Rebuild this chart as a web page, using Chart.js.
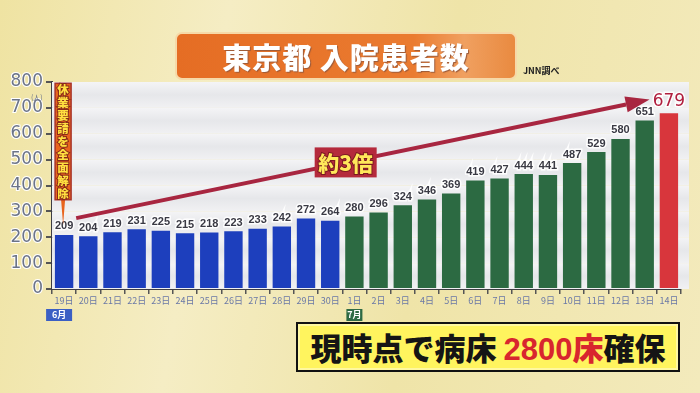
<!DOCTYPE html>
<html lang="ja">
<head>
<meta charset="utf-8">
<script src="https://cdn.jsdelivr.net/npm/chart.js@4/dist/chart.umd.min.js"></script>
<style>
  html, body { margin: 0; padding: 0; }
  body {
    width: 700px; height: 393px; overflow: hidden; position: relative;
    background: linear-gradient(100deg, #efe3a2 0%, #f5edc4 30%, #efe4a8 60%, #f3eabc 100%);
    font-family: "Noto Sans CJK JP", "Noto Sans", sans-serif;
  }
  #wrap { position: absolute; left: 0; top: 0; width: 700px; height: 393px; }
  .title {
    position: absolute; left: 175px; top: 32px; width: 338px; height: 44px;
    border-radius: 7px; border: 2px solid #f6d9a8;
    background: linear-gradient(90deg, #e56d24 0%, #ea7b30 70%, #f0a060 85%, #e98a40 100%);
    color: #fff; font-weight: 900; font-size: 29px; line-height: 44px; text-align: center;
    letter-spacing: 1px; text-shadow: 1px 1px 1px #9a5a3a;
  }
  .src { position: absolute; left: 523px; top: 64px; font-size: 9px; color: #222; font-weight: bold; }
  .unit { position: absolute; left: 31px; top: 92px; font-size: 7px; color: #6c7488; }
  .note {
    position: absolute; left: 296px; top: 322px; width: 380px; height: 46px;
    background: #fff45e; border: 2px solid #111; box-shadow: inset 0 0 0 2px #fff8a0;
    font-weight: 900; font-size: 31px; line-height: 46px; text-align: center; color: #151515;
    white-space: nowrap;
  }
  .note .red { color: #d8262e; font-family: "Liberation Sans", Arial, sans-serif; }
  .note .redk { color: #d8262e; }
</style>
</head>
<body>
<div id="wrap"><canvas id="chart" width="700" height="393"></canvas></div>
<div class="title">東京都 入院患者数</div>
<div class="src">JNN調べ</div>
<div class="unit">(人)</div>
<div class="note">現時点で病床 <span class="red">2800</span><span class="redk">床</span>確保</div>
<script>
const categories = [
  "19日", "20日", "21日", "22日", "23日", "24日", "25日", "26日", "27日", "28日", "29日", "30日",
  "1日", "2日", "3日", "4日", "5日", "6日", "7日", "8日", "9日", "10日", "11日", "12日", "13日", "14日",
];
const patients = [
  209, 204, 219, 231, 225, 215, 218, 223, 233, 242, 272, 264,
  280, 296, 324, 346, 369, 419, 427, 444, 441, 487, 529, 580, 651, 679,
];
const monthLabels = ["6月", "7月"];
const monthStart = [0, 12];
const yTicks = [0, 100, 200, 300, 400, 500, 600, 700, 800];

const callout = "休業要請を全面解除";
const ratioLabel = "約3倍";
// arrow runs from [index, value] to [index, value]
const arrowFrom = [0.5, 274];
const arrowTo = [24.2, 732];

const BLUE = "#1d3fbd";
const GREEN = "#2c6a42";
const RED = "#d8363c";

function barColor(i) {
  if (i === categories.length - 1) return RED;
  return i >= monthStart[1] ? GREEN : BLUE;
}

const decorations = {
  id: "decorations",
  beforeDatasetsDraw(chart) {
    const { ctx, chartArea: a, scales: { y } } = chart;
    ctx.save();
    for (let i = 0; i < yTicks.length - 1; i++) {
      const top = y.getPixelForValue(yTicks[i + 1]);
      const bot = y.getPixelForValue(yTicks[i]);
      const g = ctx.createLinearGradient(0, top, 0, bot);
      g.addColorStop(0, "#f4f4f6");
      g.addColorStop(0.5, "#e6e7ea");
      g.addColorStop(1, "#f1f1f3");
      ctx.fillStyle = g;
      ctx.fillRect(a.left, top, a.right - a.left + 8, bot - top);
    }
    ctx.restore();
  },
  afterDatasetsDraw(chart) {
    const { ctx, scales: { x, y } } = chart;
    const meta = chart.getDatasetMeta(0);
    ctx.save();

    // value labels
    ctx.textAlign = "center";
    ctx.textBaseline = "bottom";
    meta.data.forEach((bar, i) => {
      const last = i === patients.length - 1;
      ctx.font = last ? "17px 'DejaVu Sans'" : "bold 11px 'Liberation Sans'";
      ctx.lineWidth = 3;
      ctx.strokeStyle = "rgba(255,255,255,0.9)";
      ctx.strokeText(String(patients[i]), bar.x, bar.y - 3);
      ctx.fillStyle = last ? "#b01e3e" : "#3a3a44";
      ctx.fillText(String(patients[i]), bar.x, bar.y - 3);
    });

    // month labels
    ctx.font = "bold 9px 'Noto Sans CJK JP'";
    ctx.textBaseline = "middle";
    monthLabels.forEach((m, k) => {
      const cx = x.getPixelForValue(monthStart[k]) - (k === 0 ? 5 : 0);
      const w = k === 0 ? 26 : 16;
      ctx.fillStyle = k === 0 ? "#3b5fc4" : "#2e6a44";
      ctx.fillRect(cx - w / 2, 309, w, 12);
      ctx.fillStyle = "#fff";
      ctx.fillText(m, cx, 315);
    });

    // growth arrow
    const x0 = x.getPixelForValue(arrowFrom[0]), y0 = y.getPixelForValue(arrowFrom[1]);
    const x1 = x.getPixelForValue(arrowTo[0]), y1 = y.getPixelForValue(arrowTo[1]);
    const ang = Math.atan2(y1 - y0, x1 - x0);
    const headLen = 24, headW = 8;
    const bx = x1 - headLen * Math.cos(ang), by = y1 - headLen * Math.sin(ang);
    ctx.strokeStyle = "#a82640";
    ctx.lineWidth = 4;
    ctx.beginPath();
    ctx.moveTo(x0, y0);
    ctx.lineTo(bx, by);
    ctx.stroke();
    ctx.fillStyle = "#a82640";
    ctx.beginPath();
    ctx.moveTo(x1, y1);
    ctx.lineTo(bx + headW * Math.sin(ang), by - headW * Math.cos(ang));
    ctx.lineTo(bx - headW * Math.sin(ang), by + headW * Math.cos(ang));
    ctx.closePath();
    ctx.fill();

    // ratio label on the arrow
    const t = 0.47;
    const mx = x0 + (x1 - x0) * t, my = y0 + (y1 - y0) * t;
    ctx.fillStyle = "#b52a3c";
    ctx.fillRect(mx - 31, my - 15, 62, 30);
    ctx.font = "900 21px 'Noto Sans CJK JP'";
    ctx.textAlign = "center";
    ctx.textBaseline = "middle";
    ctx.lineWidth = 2;
    ctx.strokeStyle = "#7a1a20";
    ctx.strokeText(ratioLabel, mx, my + 1);
    ctx.fillStyle = "#ffe85a";
    ctx.fillText(ratioLabel, mx, my + 1);

    // vertical callout pointing at the first bar
    const first = meta.data[0];
    const cx = first.x - 1;
    const top = y.getPixelForValue(795), bot = y.getPixelForValue(345);
    ctx.fillStyle = "#e8641e";
    ctx.strokeStyle = "#a8342a";
    ctx.lineWidth = 1.5;
    ctx.beginPath();
    ctx.moveTo(cx - 7, bot);
    ctx.lineTo(cx - 2, bot);
    ctx.lineTo(cx, first.y - 10);
    ctx.lineTo(cx + 2, bot);
    ctx.lineTo(cx + 7, bot);
    ctx.closePath();
    ctx.fill();
    ctx.fillRect(cx - 8, top, 16, bot - top);
    ctx.strokeRect(cx - 8, top, 16, bot - top);
    ctx.font = "900 11.5px 'Noto Sans CJK JP'";
    const step = (bot - top) / callout.length;
    [...callout].forEach((ch, i) => {
      const cy = top + step * (i + 0.5);
      ctx.lineWidth = 2;
      ctx.strokeStyle = "#8a2a18";
      ctx.strokeText(ch, cx, cy);
      ctx.fillStyle = "#ffe040";
      ctx.fillText(ch, cx, cy);
    });
    ctx.restore();
  },
};

new Chart(document.getElementById("chart"), {
  type: "bar",
  data: {
    labels: categories,
    datasets: [
      {
        data: patients,
        backgroundColor: patients.map((_, i) => barColor(i)),
        barPercentage: 0.76,
        categoryPercentage: 1,
      },
    ],
  },
  options: {
    responsive: false,
    animation: false,
    layout: { padding: { left: 0, right: 19, top: 82, bottom: 84 } },
    plugins: { legend: { display: false }, tooltip: { enabled: false } },
    scales: {
      x: {
        afterFit(s) { s.height = 20; },
        grid: { drawOnChartArea: false, tickLength: 5, color: "#555", lineWidth: 1.5 },
        border: { color: "#3e3e44", width: 2 },
        ticks: { color: "#6a78a6", font: { size: 9, family: "'Noto Sans CJK JP'" }, padding: 1, maxRotation: 0, autoSkip: false },
      },
      y: {
        min: 0,
        max: 800,
        afterFit(s) { s.width = 52; },
        afterBuildTicks(s) { s.ticks = yTicks.map((v) => ({ value: v })); },
        grid: { drawOnChartArea: false, tickLength: 6, color: "#555", lineWidth: 2 },
        border: { color: "#3e3e44", width: 2 },
        ticks: {
          color: "#6c7488",
          font: { size: 17, family: "'DejaVu Sans'" },
          padding: 3,
          textStrokeColor: "#ffffff",
          textStrokeWidth: 2,
        },
      },
    },
  },
  plugins: [decorations],
});
</script>
</body>
</html>
